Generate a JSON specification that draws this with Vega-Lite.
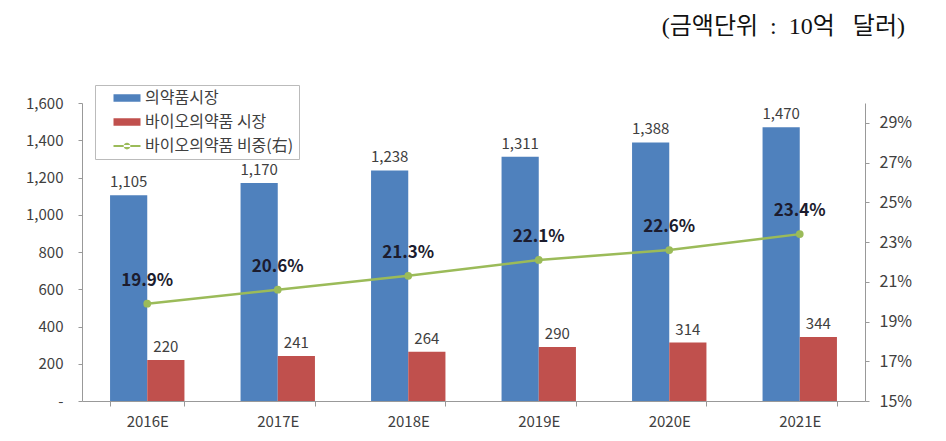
{
  "$schema": "https://vega.github.io/schema/vega-lite/v6.json",
  "width": 783,
  "height": 298,
  "autosize": {"type": "none"},
  "padding": {"left": 82, "top": 103, "right": 81, "bottom": 40},
  "background": "white",
  "title": {
    "text": "(금액단위\u00a0\u00a0:\u00a0\u00a010억\u00a0\u00a0\u00a0달러)",
    "anchor": "end",
    "frame": "group",
    "dx": 40,
    "offset": 46,
    "font": "Liberation Serif, Noto Sans CJK KR",
    "fontSize": 24,
    "fontWeight": "normal",
    "color": "#111"
  },
  "config": {
    "view": {"stroke": null},
    "font": "Noto Sans CJK KR",
    "axis": {"grid": false, "domainColor": "#999", "tickColor": "#999", "labelColor": "#404040", "titleFontSize": 0}
  },
  "data": {
    "values": [
      {"year": "2016E", "series": "의약품시장", "value": 1105},
      {"year": "2017E", "series": "의약품시장", "value": 1170},
      {"year": "2018E", "series": "의약품시장", "value": 1238},
      {"year": "2019E", "series": "의약품시장", "value": 1311},
      {"year": "2020E", "series": "의약품시장", "value": 1388},
      {"year": "2021E", "series": "의약품시장", "value": 1470},
      {"year": "2016E", "series": "바이오의약품 시장", "value": 220},
      {"year": "2017E", "series": "바이오의약품 시장", "value": 241},
      {"year": "2018E", "series": "바이오의약품 시장", "value": 264},
      {"year": "2019E", "series": "바이오의약품 시장", "value": 290},
      {"year": "2020E", "series": "바이오의약품 시장", "value": 314},
      {"year": "2021E", "series": "바이오의약품 시장", "value": 344},
      {"year": "2016E", "series": "바이오의약품 비중(右)", "value": 0.199},
      {"year": "2017E", "series": "바이오의약품 비중(右)", "value": 0.206},
      {"year": "2018E", "series": "바이오의약품 비중(右)", "value": 0.213},
      {"year": "2019E", "series": "바이오의약품 비중(右)", "value": 0.221},
      {"year": "2020E", "series": "바이오의약품 비중(右)", "value": 0.226},
      {"year": "2021E", "series": "바이오의약품 비중(右)", "value": 0.234}
    ]
  },
  "encoding": {
    "x": {
      "field": "year",
      "type": "nominal",
      "sort": null,
      "scale": {"paddingInner": 0.43, "paddingOuter": 0.215},
      "axis": {
        "title": null,
        "labelAngle": 0,
        "labelFontSize": 15,
        "labelPadding": 8,
        "tickBand": "extent",
        "tickSize": 5,
        "domainColor": "#999"
      }
    }
  },
  "layer": [
    {
      "transform": [{"filter": "datum.series !== '바이오의약품 비중(右)'"}],
      "encoding": {
        "y": {
          "field": "value",
          "type": "quantitative",
          "scale": {"domain": [0, 1600]},
          "axis": {
            "title": null,
            "values": [0, 200, 400, 600, 800, 1000, 1200, 1400, 1600],
            "labelExpr": "datum.value == 0 ? '-' : format(datum.value, ',')",
            "labelFontSize": 15,
            "labelPadding": 15,
            "tickSize": 4
          }
        },
        "xOffset": {
          "field": "series",
          "type": "nominal",
          "sort": ["의약품시장", "바이오의약품 시장"],
          "scale": {"domain": ["의약품시장", "바이오의약품 시장"], "paddingInner": 0, "paddingOuter": 0}
        }
      },
      "layer": [
        {
          "mark": {"type": "bar"},
          "encoding": {
            "color": {
              "field": "series",
              "type": "nominal",
              "scale": {
                "domain": ["의약품시장", "바이오의약품 시장", "바이오의약품 비중(右)"],
                "range": ["#4F81BD", "#C0504D", "#9BBB59"]
              },
              "legend": {
                "title": null,
                "orient": "none",
                "legendX": 13,
                "legendY": -18,
                "direction": "vertical",
                "strokeColor": "#bbb",
                "fillColor": "white",
                "padding": 5,
                "symbolSize": 225,
                "symbolOffset": 19,
                "labelOffset": 10,
                "rowPadding": 8,
                "labelFontSize": 16,
                "labelColor": "#404040",
                "labelFont": "Noto Sans CJK KR",
                "encode": {
                  "symbols": {
                    "update": {
                      "shape": {"signal": "datum.value === '바이오의약품 비중(右)' ? 'M-1.8,-0.12H1.8V0.12H-1.8Z M-0.45,0 A0.45,0.45 0 1,0 0.45,0 A0.45,0.45 0 1,0 -0.45,0Z' : 'M-1.8,-0.5H1.8V0.5H-1.8Z'"},
                      "fill": {"signal": "scale('color', datum.value)"},
                      "stroke": {"value": "transparent"},
                      "strokeWidth": {"value": 0},
                      "opacity": {"value": 1},
                      "fillOpacity": {"value": 1}
                    }
                  }
                }
              }
            }
          }
        },
        {
          "mark": {"type": "text", "dy": -13, "fontSize": 15, "color": "#404040"},
          "encoding": {"text": {"field": "value", "type": "quantitative", "format": ","}}
        }
      ]
    },
    {
      "transform": [{"filter": "datum.series === '바이오의약품 비중(右)'"}],
      "encoding": {
        "y": {
          "field": "value",
          "type": "quantitative",
          "scale": {"domain": [0.15, 0.30], "nice": false, "zero": false},
          "axis": {
            "title": null,
            "orient": "right",
            "values": [0.15, 0.17, 0.19, 0.21, 0.23, 0.25, 0.27, 0.29],
            "format": ".0%",
            "labelFontSize": 16,
            "labelPadding": 10,
            "tickSize": 4
          }
        }
      },
      "layer": [
        {
          "mark": {"type": "line", "strokeWidth": 2.5, "point": {"filled": true, "size": 60}},
          "encoding": {
            "color": {"field": "series", "type": "nominal"}
          }
        },
        {
          "mark": {"type": "text", "dy": -23, "fontSize": 17, "fontWeight": "bold", "color": "#1c1c2e"},
          "encoding": {"text": {"field": "value", "type": "quantitative", "format": ".1%"}}
        }
      ]
    }
  ],
  "resolve": {"scale": {"y": "independent"}}
}
